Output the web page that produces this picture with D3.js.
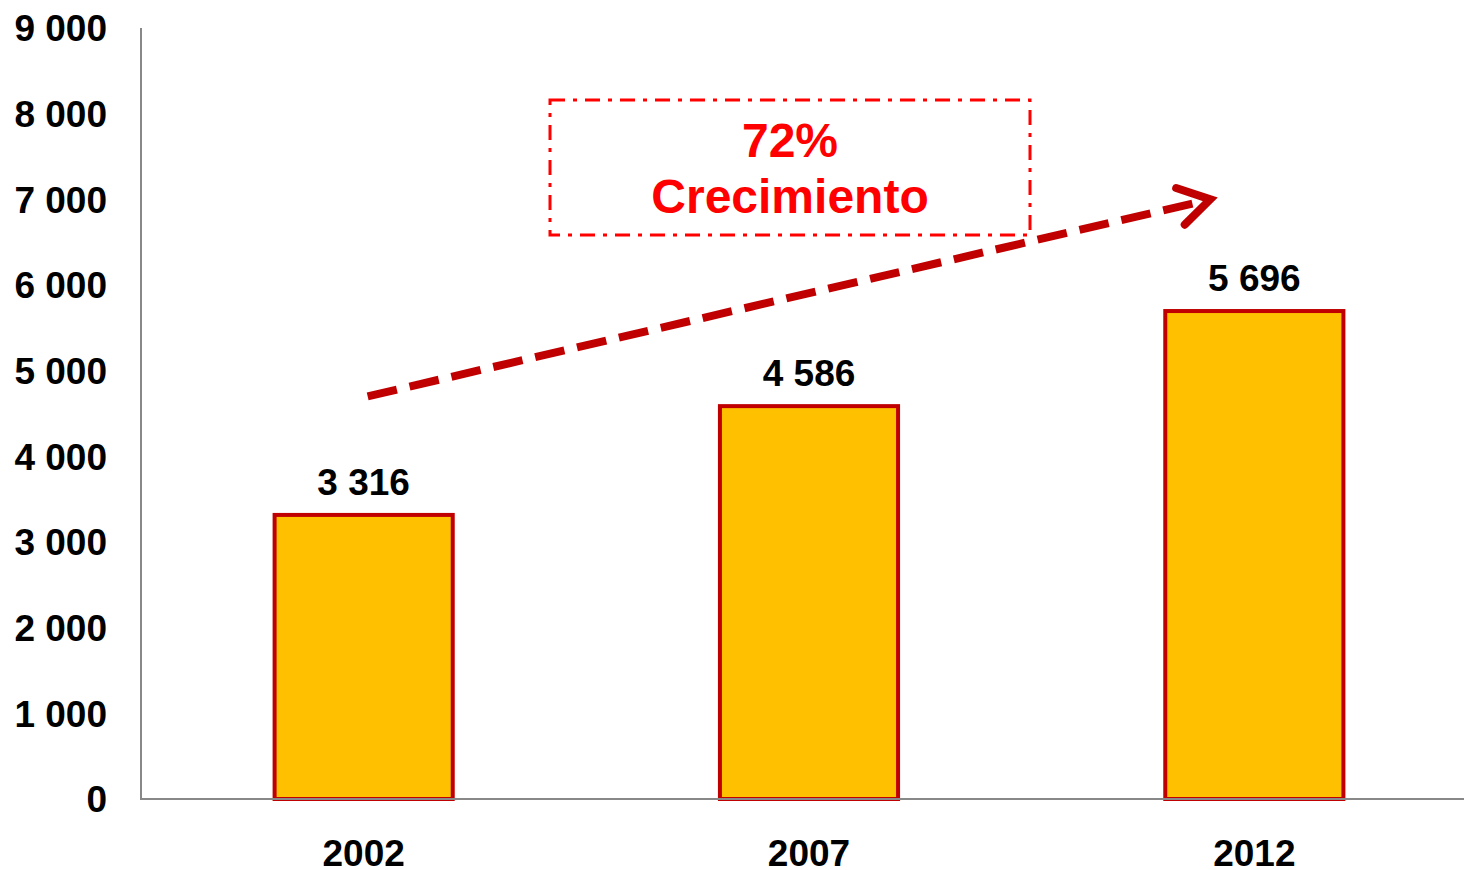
<!DOCTYPE html>
<html>
<head>
<meta charset="utf-8">
<script src="https://cdn.jsdelivr.net/npm/d3@7"></script>
<style>
  body { margin: 0; background: #fff; }
  text { font-family: 'Liberation Sans', Arial, sans-serif; font-weight: bold; }
</style>
</head>
<body>
<svg id="chart" width="1464" height="870"></svg>
<script>
const years = ['2002', '2007', '2012']
const values = [3316, 4586, 5696]
const yTicks = [0, 1000, 2000, 3000, 4000, 5000, 6000, 7000, 8000, 9000]
const growthLabel = ['72%', 'Crecimiento']

const svg = d3.select('#chart')
const fmt = v => d3.format(',')(v).replace(/,/g, ' ')

const x = d3.scaleBand()
  .domain(years)
  .range([141, 1477])
  .paddingInner(0.6)
  .paddingOuter(0.3)

const y = d3.scaleLinear()
  .domain([0, 9000])
  .range([799, 28])

// y axis labels (no tick marks)
svg.append('g')
  .selectAll('text')
  .data(yTicks)
  .enter()
  .append('text')
  .attr('x', 107)
  .attr('y', d => y(d))
  .attr('dy', '0.36em')
  .attr('text-anchor', 'end')
  .style('font-size', '37px')
  .text(d => fmt(d))

// bars
svg.append('g')
  .selectAll('rect')
  .data(values)
  .enter()
  .append('rect')
  .attr('x', (d, i) => x(years[i]))
  .attr('y', d => y(d))
  .attr('width', x.bandwidth())
  .attr('height', d => y(0) - y(d))
  .attr('fill', '#FFC000')
  .attr('stroke', '#C00000')
  .attr('stroke-width', 4)

// axis lines
svg.append('line')
  .attr('x1', 141).attr('x2', 141)
  .attr('y1', y(9000)).attr('y2', y(0))
  .attr('stroke', '#888').attr('stroke-width', 2)
svg.append('line')
  .attr('x1', 140).attr('x2', 1464)
  .attr('y1', y(0)).attr('y2', y(0))
  .attr('stroke', '#888').attr('stroke-width', 2)

// value labels
svg.append('g')
  .selectAll('text')
  .data(values)
  .enter()
  .append('text')
  .attr('x', (d, i) => x(years[i]) + x.bandwidth() / 2)
  .attr('y', d => y(d) - 20)
  .attr('text-anchor', 'middle')
  .style('font-size', '37px')
  .text(d => fmt(d))

// x labels
svg.append('g')
  .selectAll('text')
  .data(years)
  .enter()
  .append('text')
  .attr('x', d => x(d) + x.bandwidth() / 2)
  .attr('y', 866)
  .attr('text-anchor', 'middle')
  .style('font-size', '37px')
  .text(d => d)

// trend arrow
const cx = d => x(d) + x.bandwidth() / 2
const x0 = cx('2002') + 4
const y0 = y(4700)
const x1 = cx('2012') - 44
const y1 = y(7000)
const ang = Math.atan2(y1 - y0, x1 - x0)
svg.append('line')
  .attr('x1', x0).attr('y1', y0)
  .attr('x2', x1 - 8 * Math.cos(ang)).attr('y2', y1 - 8 * Math.sin(ang))
  .attr('stroke', '#C00000')
  .attr('stroke-width', 8)
  .attr('stroke-dasharray', '30,13')
const head = 36
const spread = 0.55
svg.append('path')
  .attr('d', d3.line()([
    [x1 - head * Math.cos(ang - spread), y1 - head * Math.sin(ang - spread)],
    [x1, y1],
    [x1 - head * Math.cos(ang + spread), y1 - head * Math.sin(ang + spread)]
  ]))
  .attr('fill', 'none')
  .attr('stroke', '#C00000')
  .attr('stroke-width', 8)
  .attr('stroke-linecap', 'round')
  .attr('stroke-linejoin', 'miter')

// growth box
svg.append('rect')
  .attr('x', 550).attr('y', 100)
  .attr('width', 480).attr('height', 135)
  .attr('fill', 'none')
  .attr('stroke', '#FF0000')
  .attr('stroke-width', 3)
  .attr('stroke-dasharray', '15,8,4,8')
svg.append('text')
  .attr('x', 790).attr('y', 157)
  .attr('text-anchor', 'middle')
  .attr('fill', '#FF0000')
  .style('font-size', '48px')
  .text(growthLabel[0])
svg.append('text')
  .attr('x', 790).attr('y', 213)
  .attr('text-anchor', 'middle')
  .attr('fill', '#FF0000')
  .style('font-size', '48px')
  .text(growthLabel[1])
</script>
</body>
</html>
